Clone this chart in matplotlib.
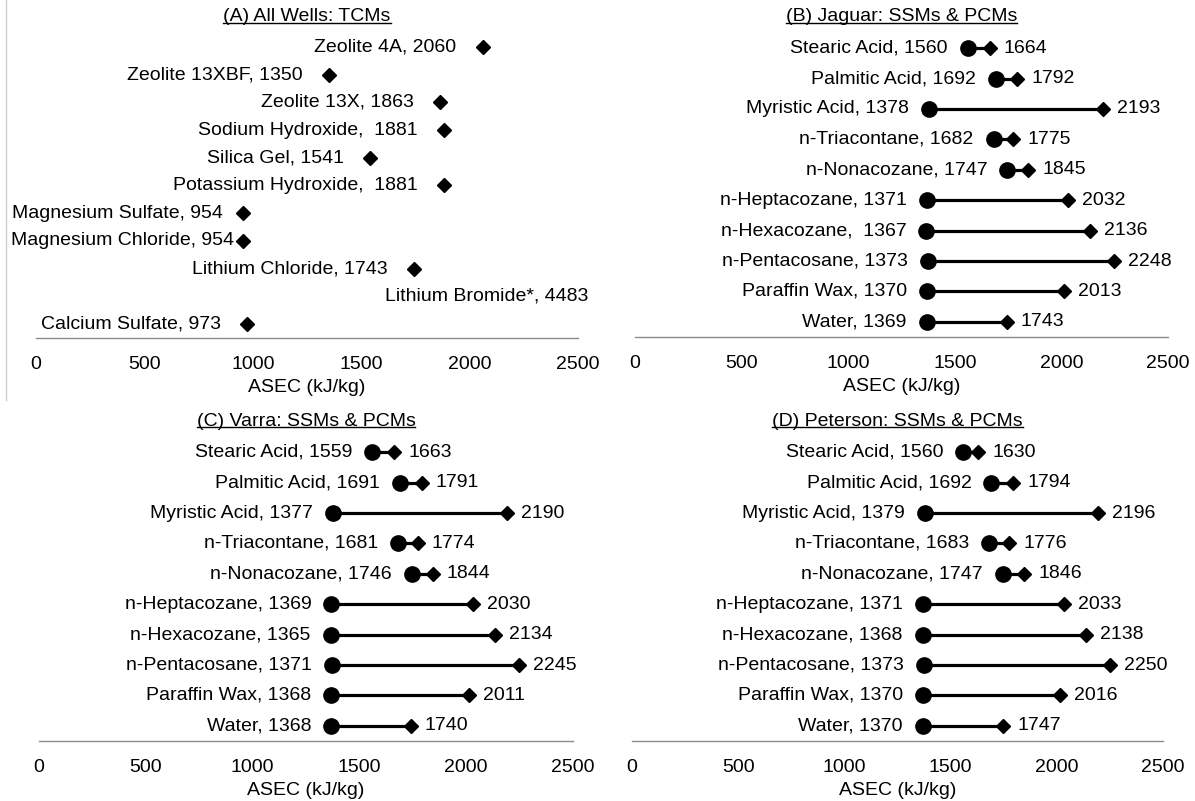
import matplotlib
matplotlib.use("Agg")
import matplotlib.pyplot as plt
from matplotlib.lines import Line2D

plt.rcParams['font.family'] = ['Liberation Sans', 'DejaVu Sans']

# ---------------- data ----------------
tcm_names = ["Zeolite 4A", "Zeolite 13XBF", "Zeolite 13X", "Sodium Hydroxide",
             "Silica Gel", "Potassium Hydroxide", "Magnesium Sulfate",
             "Magnesium Chloride", "Lithium Chloride", "Lithium Bromide*",
             "Calcium Sulfate"]
tcm_values = [2060, 1350, 1863, 1881, 1541, 1881, 954, 954, 1743, 4483, 973]
tcm_seps = [", ", ", ", ", ", ",  ", ", ", ",  ", ", ", ", ", ", ", ", ", ", "]

pcm_names = ["Stearic Acid", "Palmitic Acid", "Myristic Acid", "n-Triacontane",
             "n-Nonacozane", "n-Heptacozane", "n-Hexacozane", "n-Pentacosane",
             "Paraffin Wax", "Water"]

jaguar_low = [1560, 1692, 1378, 1682, 1747, 1371, 1367, 1373, 1370, 1369]
jaguar_high = [1664, 1792, 2193, 1775, 1845, 2032, 2136, 2248, 2013, 1743]

varra_low = [1559, 1691, 1377, 1681, 1746, 1369, 1365, 1371, 1368, 1368]
varra_high = [1663, 1791, 2190, 1774, 1844, 2030, 2134, 2245, 2011, 1740]

peterson_low = [1560, 1692, 1379, 1683, 1747, 1371, 1368, 1373, 1370, 1370]
peterson_high = [1630, 1794, 2196, 1776, 1846, 2033, 2138, 2250, 2016, 1747]

titles = ["(A) All Wells: TCMs", "(B) Jaguar: SSMs & PCMs",
          "(C) Varra: SSMs & PCMs", "(D) Peterson: SSMs & PCMs"]
x_ticks = [0, 500, 1000, 1500, 2000, 2500]
x_label = "ASEC (kJ/kg)"

# ---------------- style ----------------
W, H = 1195, 801
FS = 14
AXCOL = "#8c8c8c"

fig = plt.figure(figsize=(W / 100, H / 100), dpi=100)
fig.patch.set_facecolor("white")


def make_axes(x0, x1, ytop, ybot):
    return fig.add_axes([x0 / W, 1 - ybot / H, (x1 - x0) / W, (ybot - ytop) / H])


def style_axes(ax, n):
    ax.set_xlim(0, 2500)
    ax.set_ylim(-0.5, n - 0.5)
    for s in ["top", "right", "left"]:
        ax.spines[s].set_visible(False)
    ax.spines["bottom"].set_color(AXCOL)
    ax.spines["bottom"].set_linewidth(1.0)
    ax.set_yticks([])
    ax.set_xticks(x_ticks)
    ax.set_xticklabels([str(t) for t in x_ticks])
    ax.tick_params(axis="x", length=0, pad=13, labelsize=FS, colors="black")
    ax.set_xlabel(x_label, fontsize=FS, labelpad=4.5)
    ax.patch.set_alpha(0)


title_texts = []


def add_title(ax, text):
    t = ax.annotate(text, xy=(0.5, 1.0), xycoords="axes fraction",
                    xytext=(0, 16), textcoords="offset pixels",
                    ha="center", va="center", fontsize=FS)
    title_texts.append(t)


# Panel A
axA = make_axes(36, 578, 33, 338)
nA = len(tcm_names)
style_axes(axA, nA)
gapsA = [26, 26, 26, 26, 26, 26, 20, 9, 26, 26, 26]
for i, (nm, v, sp) in enumerate(zip(tcm_names, tcm_values, tcm_seps)):
    y = nA - 1 - i
    lbl = f"{nm}{sp}{v}"
    if v <= 2500:
        axA.plot([v], [y], marker="D", ms=7, color="black", linestyle="none",
                 clip_on=False)
        axA.annotate(lbl, xy=(v, y), xytext=(-gapsA[i], 0), textcoords="offset pixels",
                     ha="right", va="center", fontsize=FS)
    else:
        axA.annotate(lbl, xy=(2500, y), xytext=(10, 0), textcoords="offset pixels",
                     ha="right", va="center", fontsize=FS)
add_title(axA, titles[0])


def dumbbell(ax, low, high, title, wide_sep=()):
    n = len(pcm_names)
    style_axes(ax, n)
    for i, (nm, lo, hi) in enumerate(zip(pcm_names, low, high)):
        y = n - 1 - i
        ax.plot([lo, hi], [y, y], color="black", lw=2.3, solid_capstyle="butt", zorder=2)
        ax.plot([lo], [y], marker="o", ms=11, color="black", linestyle="none", zorder=3)
        ax.plot([hi], [y], marker="D", ms=7, color="black", linestyle="none", zorder=3)
        sep = ",  " if nm in wide_sep else ", "
        ax.annotate(f"{nm}{sep}{lo}", xy=(lo, y), xytext=(-20, 0), textcoords="offset pixels",
                    ha="right", va="center", fontsize=FS)
        ax.annotate(f"{hi}", xy=(hi, y), xytext=(14, 0), textcoords="offset pixels",
                    ha="left", va="center", fontsize=FS)
    add_title(ax, title)


axB = make_axes(635, 1168, 33, 337)
dumbbell(axB, jaguar_low, jaguar_high, titles[1], wide_sep=("n-Hexacozane",))

axC = make_axes(39, 573, 437, 741)
dumbbell(axC, varra_low, varra_high, titles[2])

axD = make_axes(632, 1163, 437, 741)
dumbbell(axD, peterson_low, peterson_high, titles[3])

# left border fragment of panel A
fig.add_artist(Line2D([6 / W, 6 / W], [1, 1 - 400 / H], color="#cfcfcf", lw=1.0))

# underline titles
fig.canvas.draw()
renderer = fig.canvas.get_renderer()
for t in title_texts:
    bb = t.get_window_extent(renderer)
    yl = bb.y0 + 2.5
    fig.add_artist(Line2D([bb.x0 / W, bb.x1 / W], [yl / H, yl / H],
                          color="black", lw=1.0))

fig.savefig("out.png", dpi=100, facecolor="white")
